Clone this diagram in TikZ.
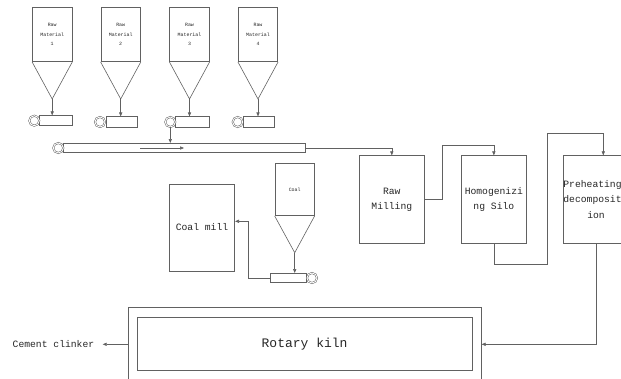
\documentclass[tikz,border=0pt]{standalone}
\usepackage{fontspec}
\setmainfont{Liberation Mono}
\usetikzlibrary{arrows.meta}
\begin{document}
\begin{tikzpicture}[x=1pt,y=-1pt,
  ln/.style={draw=black!62, line width=0.6pt},
  box/.style={ln, rectangle, inner sep=0pt, align=center, text=black!85},
  arr/.style={ln, -{Triangle[length=4pt,width=3.2pt]}},
  roller/.style={circle, draw=black!62, line width=0.5pt, double=white, double distance=0.9pt, fill=white, minimum size=10pt, inner sep=0pt},
  belt/.style={ln, rectangle, inner sep=0pt},
  tiny/.style={font=\fontsize{4.9}{9.3}\selectfont},
  mid/.style={font=\fontsize{9.7}{15.2}\selectfont},
  big/.style={font=\fontsize{13}{15}\selectfont}]
\useasboundingbox (0,0) rectangle (621,378);
\clip (0,0) rectangle (621,378);

% raw material silos
\foreach \i/\cx in {1/52.2,2/120.7,3/189.5,4/258}{
  \node[box, tiny, minimum width=39.5pt, minimum height=54.4pt] (s\i) at (\cx,34.5) {Raw\\Material\\\i};
  \coordinate (a\i) at (\cx,99);
  \draw[ln] (s\i.south west) -- (a\i) -- (s\i.south east);
}

% small conveyors
\node[belt, minimum width=33pt, minimum height=10pt] (c1) at (55.5,120.7) {};
\node[roller] (r1) at (34.3,120.7) {};
\node[belt, minimum width=31.7pt, minimum height=10.5pt] (c2) at (121.9,122) {};
\node[roller] (r2) at (100,122) {};
\node[belt, minimum width=34pt, minimum height=10.5pt] (c3) at (192.2,122) {};
\node[roller] (r3) at (170.3,122) {};
\node[belt, minimum width=31.7pt, minimum height=10.5pt] (c4) at (258.9,122) {};
\node[roller] (r4) at (237.7,122) {};
\foreach \i in {1,2,3,4}{
  \draw[arr] (a\i) -- (a\i |- c\i.north);
}

% main conveyor
\node[belt, minimum width=242.7pt, minimum height=9pt] (m) at (184.35,147.8) {};
\node[roller] (rm0) at (58.3,148) {};
\coordinate (d1) at (140,148);
\coordinate (d2) at (184,148);
\draw[arr] (d1) -- (d2);
\draw[arr] (r3.south) -- (r3.south |- m.north);

% process boxes
\node[box, mid, minimum width=65pt, minimum height=87.6pt] (rm) at (391.8,199.5) {Raw\\Milling};
\node[box, mid, minimum width=65.7pt, minimum height=87.6pt] (hs) at (493.85,199.5) {Homogenizi\\ng Silo};
\node[box, mid, minimum width=65.5pt, minimum height=87.6pt] (ph) at (596,199.5) {\hspace*{-7pt}Preheating\\\hspace*{-7pt}decomposit\\ion};

\draw[arr] (m.east) -| (rm.north);
\coordinate (k1) at (442.7,145);
\draw[arr] (rm.east) -| (k1) -| (hs.north);
\coordinate (k2) at (547.3,264);
\coordinate (k3) at (603.3,133.7);
\draw[arr] (hs.south) |- (k2) |- (k3) -- (k3 |- ph.north);

% coal section
\node[box, mid, minimum width=65.4pt, minimum height=87pt] (cm) at (202,227.5) {Coal mill};
\node[box, tiny, minimum width=39.3pt, minimum height=52.4pt] (cs) at (294.65,189.5) {Coal};
\coordinate (ca) at (294.7,252.7);
\draw[ln] (cs.south west) -- (ca) -- (cs.south east);
\node[belt, minimum width=36pt, minimum height=9.4pt] (cc) at (288.7,278) {};
\node[roller] (rc) at (312,278) {};
\draw[arr] (ca) -- (ca |- cc.north);
\coordinate (k4) at (248.5,221.3);
\draw[arr] (cc.west) -| (k4) -- (k4 -| cm.east);

% rotary kiln
\node[box, minimum width=352.8pt, minimum height=73.2pt] (ko) at (304.9,344.3) {};
\node[box, big, minimum width=335.2pt, minimum height=53pt] (ki) at (304.6,343.8) {Rotary kiln};
\draw[arr] (ph.south) |- (ko.east);
\node[mid, anchor=east, inner sep=0pt, text=black!85] (cl) at (94.4,344.3) {Cement clinker};
\coordinate (ce) at (102.7,344.3);
\draw[arr] (ko.west) -- (ce);
\end{tikzpicture}
\end{document}
